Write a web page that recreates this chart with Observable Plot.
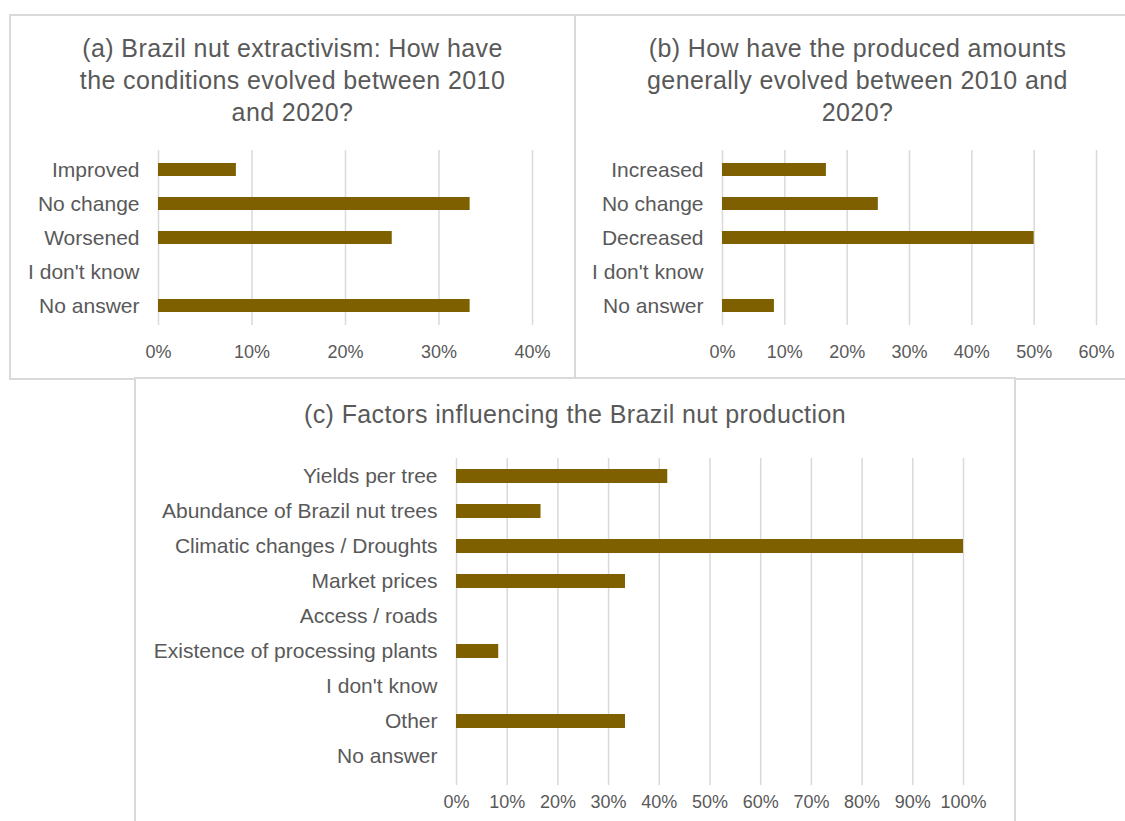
<!DOCTYPE html>
<html>
<head>
<meta charset="utf-8">
<script src="https://cdn.jsdelivr.net/npm/d3@7"></script>
<script src="https://cdn.jsdelivr.net/npm/@observablehq/plot@0.6"></script>
<style>
  html, body { margin:0; padding:0; background:#fff; }
  #wrap { position:relative; width:1125px; height:821px; overflow:hidden; background:#fff;
          font-family:"Liberation Sans", Arial, sans-serif; color:#595959; }
  .panel { position:absolute; box-sizing:border-box; border:2px solid #d9d9d9; background:#fff; }
  .title { position:absolute; text-align:center; font-size:25px; line-height:32px; letter-spacing:0.4px; color:#595959; white-space:nowrap; }
  .plot { position:absolute; }
  .plot svg { overflow:visible; max-width:none !important; }
  .plot g[aria-label^="x-axis"] text { font-size:18px; }
  .plot g[aria-label^="y-axis"] text { font-size:21px; }
</style>
</head>
<body>
<div id="wrap">
  <div class="panel" style="left:9px;top:14px;width:568px;height:366px;"></div>
  <div class="panel" style="left:574px;top:14px;width:570px;height:366px;"></div>
  <div class="panel" style="left:134px;top:377px;width:882px;height:460px;"></div>
  <div class="title" id="ta" style="left:10px;top:32px;width:565px;"></div>
  <div class="title" id="tb" style="left:575px;top:32px;width:565px;"></div>
  <div class="title" id="tc" style="left:135px;top:398px;width:880px;"></div>
  <div class="plot" id="pa" style="left:10px;top:140px;width:565px;"></div>
  <div class="plot" id="pb" style="left:575px;top:140px;width:565px;"></div>
  <div class="plot" id="pc" style="left:135px;top:440px;width:880px;"></div>
</div>
<script>
// ---- Data ----
const titleA = ["(a) Brazil nut extractivism: How have", "the conditions evolved between 2010", "and 2020?"];
const catsA = ["Improved", "No change", "Worsened", "I don't know", "No answer"];
const valsA = [8.33, 33.33, 25, 0, 33.33];
const ticksA = [0, 10, 20, 30, 40];

const titleB = ["(b) How have the produced amounts", "generally evolved between 2010 and", "2020?"];
const catsB = ["Increased", "No change", "Decreased", "I don't know", "No answer"];
const valsB = [16.67, 25, 50, 0, 8.33];
const ticksB = [0, 10, 20, 30, 40, 50, 60];

const titleC = ["(c) Factors influencing the Brazil nut production"];
const catsC = ["Yields per tree", "Abundance of Brazil nut trees", "Climatic changes / Droughts", "Market prices",
               "Access / roads", "Existence of processing plants", "I don't know", "Other", "No answer"];
const valsC = [41.67, 16.67, 100, 33.33, 0, 8.33, 0, 33.33, 0];
const ticksC = [0, 10, 20, 30, 40, 50, 60, 70, 80, 90, 100];

const barColor = "#7F6000";
const gridColor = "#d9d9d9";

function setTitle(id, lines) {
  const el = document.getElementById(id);
  lines.forEach((t, i) => {
    if (i) el.appendChild(document.createElement("br"));
    el.appendChild(document.createTextNode(t));
  });
}
setTitle("ta", titleA);
setTitle("tb", titleB);
setTitle("tc", titleC);

function chart(cats, vals, ticks, o) {
  const data = cats.map((c, i) => ({c, v: vals[i]})).filter(d => d.v > 0);
  return Plot.plot({
    width: o.width, height: o.height,
    marginLeft: o.ml, marginRight: o.mr, marginTop: o.mt, marginBottom: o.mb,
    style: {fontFamily: "'Liberation Sans', Arial, sans-serif", color: "#595959", background: "transparent", overflow: "visible"},
    x: {domain: [ticks[0], ticks[ticks.length - 1]], ticks: ticks, tickFormat: d => d + "%",
        tickSize: 0, tickPadding: o.xpad, label: null, line: false},
    y: {domain: cats, paddingInner: o.pi, paddingOuter: o.po, align: o.align,
        tickSize: 0, tickPadding: 19, label: null},
    marks: [
      Plot.ruleX(ticks, {stroke: gridColor, strokeWidth: 1.5}),
      Plot.barX(data, {x: "v", y: "c", fill: barColor})
    ]
  });
}

document.getElementById("pa").appendChild(chart(catsA, valsA, ticksA,
  {width: 565, height: 230, ml: 148, mr: 43, mt: 10, mb: 45, xpad: 20, pi: 0.62, po: 0.365, align: 0.5}));
document.getElementById("pb").appendChild(chart(catsB, valsB, ticksB,
  {width: 565, height: 230, ml: 147, mr: 44, mt: 10, mb: 45, xpad: 20, pi: 0.62, po: 0.365, align: 0.5}));
document.getElementById("pc").appendChild(chart(catsC, valsC, ticksC,
  {width: 880, height: 381, ml: 321, mr: 52, mt: 18, mb: 36, xpad: 10, pi: 0.6, po: 0.42, align: 0.34}));
</script>
</body>
</html>
